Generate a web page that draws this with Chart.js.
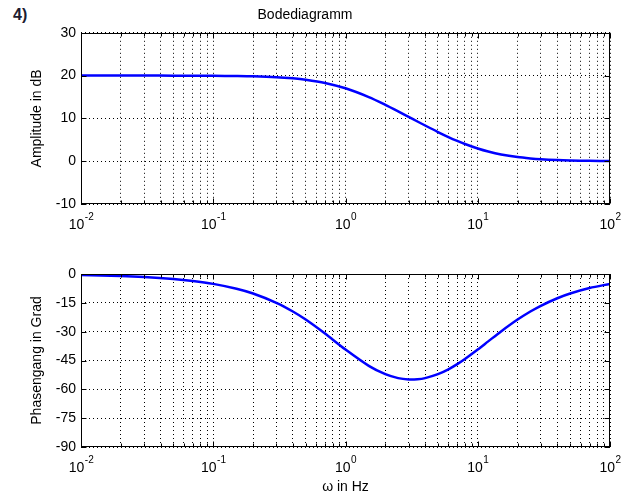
<!DOCTYPE html>
<html>
<head>
<meta charset="utf-8">
<script src="https://cdn.jsdelivr.net/npm/chart.js@4.4.1/dist/chart.umd.min.js"></script>
<style>
  body { margin: 0; background: #fff; }
  #wrap { position: relative; width: 635px; height: 498px; }
  #wrap canvas { position: absolute; left: 0; }
  #num { position: absolute; left: 13px; top: 6px; font: bold 16px "Liberation Sans", Arial, sans-serif; color: #1c1c30; }
</style>
</head>
<body>
<div id="wrap">
  <div id="num">4)</div>
  <canvas id="chart_amp" width="635" height="250" style="top:0"></canvas>
  <canvas id="chart_phase" width="635" height="248" style="top:250px"></canvas>
</div>
<script>
// data
const omega = [0.01, 0.02, 0.03, 0.05, 0.07, 0.1, 0.15, 0.2, 0.3, 0.4, 0.5, 0.7, 1, 1.5, 2, 2.5, 3, 3.5, 4, 5, 6, 7, 8, 10, 12, 15, 20, 25, 30, 40, 50, 70, 100];
const amplitude = [20.0, 20.0, 20.0, 19.99, 19.98, 19.96, 19.9, 19.83, 19.63, 19.36, 19.04, 18.29, 17.03, 14.98, 13.18, 11.66, 10.37, 9.28, 8.34, 6.82, 5.65, 4.74, 4.02, 2.97, 2.26, 1.58, 0.96, 0.64, 0.45, 0.26, 0.17, 0.09, 0.04];
const phase = [-0.52, -1.03, -1.55, -2.58, -3.6, -5.14, -7.67, -10.16, -14.98, -19.51, -23.71, -30.99, -39.29, -47.78, -52.12, -54.16, -54.87, -54.76, -54.16, -52.12, -49.58, -46.88, -44.21, -39.29, -35.05, -29.88, -23.71, -19.51, -16.52, -12.61, -10.16, -7.29, -5.14];
const decades = [0.01, 0.1, 1, 10, 100];
const decadeExp = ["-2", "-1", "0", "1", "2"];
const ampTicks = [-10, 0, 10, 20, 30];
const phaseTicks = [-90, -75, -60, -45, -30, -15, 0];

// all log grid positions 1..9 per decade
const logGrid = [];
decades.slice(0, 4).forEach((d) => {
  for (let k = 1; k < 10; k++) logGrid.push(+(d * k).toPrecision(3));
});
logGrid.push(100);

Chart.defaults.font.family = "'Liberation Sans', Arial, sans-serif";
Chart.defaults.font.size = 14;
Chart.defaults.color = "#000";

// frame, inner tick marks and 10^n labels (matlab style)
const boxPlugin = {
  id: "box",
  afterDraw(chart) {
    const { ctx, chartArea: a, scales } = chart;
    const l = Math.round(a.left) + 0.5, r = Math.round(a.right) - 0.5;
    const t = Math.round(a.top) + 0.5, b = Math.round(a.bottom) - 0.5;
    ctx.save();
    ctx.strokeStyle = "#000";
    ctx.lineWidth = 1;
    ctx.beginPath();
    logGrid.forEach((v) => {
      const x = Math.round(scales.x.getPixelForValue(v)) + 0.5;
      const len = decades.includes(v) ? 5 : 3;
      ctx.moveTo(x, b); ctx.lineTo(x, b - len);
      ctx.moveTo(x, t); ctx.lineTo(x, t + len);
    });
    scales.y.ticks.forEach((tk) => {
      const y = Math.round(scales.y.getPixelForValue(tk.value)) + 0.5;
      ctx.moveTo(l, y); ctx.lineTo(l + 5, y);
      ctx.moveTo(r, y); ctx.lineTo(r - 5, y);
    });
    ctx.stroke();
    ctx.strokeRect(l, t, r - l, b - t);

    // decade labels
    ctx.fillStyle = "#000";
    ctx.textBaseline = "alphabetic";
    ctx.textAlign = "left";
    decades.forEach((d, i) => {
      const x = scales.x.getPixelForValue(d);
      ctx.font = "14px 'Liberation Sans', Arial, sans-serif";
      const w1 = ctx.measureText("10").width;
      ctx.font = "10px 'Liberation Sans', Arial, sans-serif";
      const w2 = ctx.measureText(decadeExp[i]).width;
      const x0 = x - (w1 + w2) / 2;
      const base = a.bottom + 25;
      ctx.font = "14px 'Liberation Sans', Arial, sans-serif";
      ctx.fillText("10", x0, base);
      ctx.font = "10px 'Liberation Sans', Arial, sans-serif";
      ctx.fillText(decadeExp[i], x0 + w1 + 0.5, base - 9);
    });
    ctx.restore();
  },
};

function makeOptions(yTicks, yTitle, xHeight, xTitle, topPad, mainTitle) {
  return {
    responsive: false,
    animation: false,
    layout: { padding: { top: topPad, right: 25, left: 0, bottom: 0 } },
    plugins: {
      legend: { display: false },
      tooltip: { enabled: false },
      title: {
        display: !!mainTitle,
        text: mainTitle,
        font: { size: 14, weight: "normal" },
        padding: { top: 7, bottom: 9 },
      },
    },
    scales: {
      x: {
        type: "logarithmic",
        min: 0.01,
        max: 100,
        afterBuildTicks: (s) => { s.ticks = logGrid.map((v) => ({ value: v })); },
        afterFit: (s) => { s.height = xHeight; },
        ticks: { display: false, autoSkip: false },
        grid: { color: "#000", drawTicks: false, lineWidth: 1 },
        border: { display: false, dash: [1, 3] },
        title: { display: !!xTitle, text: xTitle, padding: { top: 0, bottom: 2 } },
      },
      y: {
        min: yTicks[0],
        max: yTicks[yTicks.length - 1],
        afterBuildTicks: (s) => { s.ticks = yTicks.map((v) => ({ value: v })); },
        afterFit: (s) => { s.width = 81; },
        ticks: { padding: 5, autoSkip: false },
        grid: { color: "#000", drawTicks: false, lineWidth: 1 },
        border: { display: false, dash: [1, 3] },
        title: { display: true, text: yTitle, padding: { top: 29, bottom: 0 } },
      },
    },
  };
}

function CreateBodeChart(canvasId, values, yTicks, yTitle, xHeight, xTitle, topPad, mainTitle) {
  const ctx = document.getElementById(canvasId).getContext("2d");
  return new Chart(ctx, {
    type: "line",
    data: {
      datasets: [
        {
          data: omega.map((w, i) => ({ x: w, y: values[i] })),
          borderColor: "#0000ff",
          borderWidth: 2.5,
          pointRadius: 0,
          tension: 0.3,
          fill: false,
        },
      ],
    },
    options: makeOptions(yTicks, yTitle, xHeight, xTitle, topPad, mainTitle),
    plugins: [boxPlugin],
  });
}

CreateBodeChart("chart_amp", amplitude, ampTicks, "Amplitude in dB", 46, "", 0, "Bodediagramm");
CreateBodeChart("chart_phase", phase, phaseTicks, "Phasengang in Grad", 51, "ω in Hz", 24, "");
</script>
</body>
</html>
